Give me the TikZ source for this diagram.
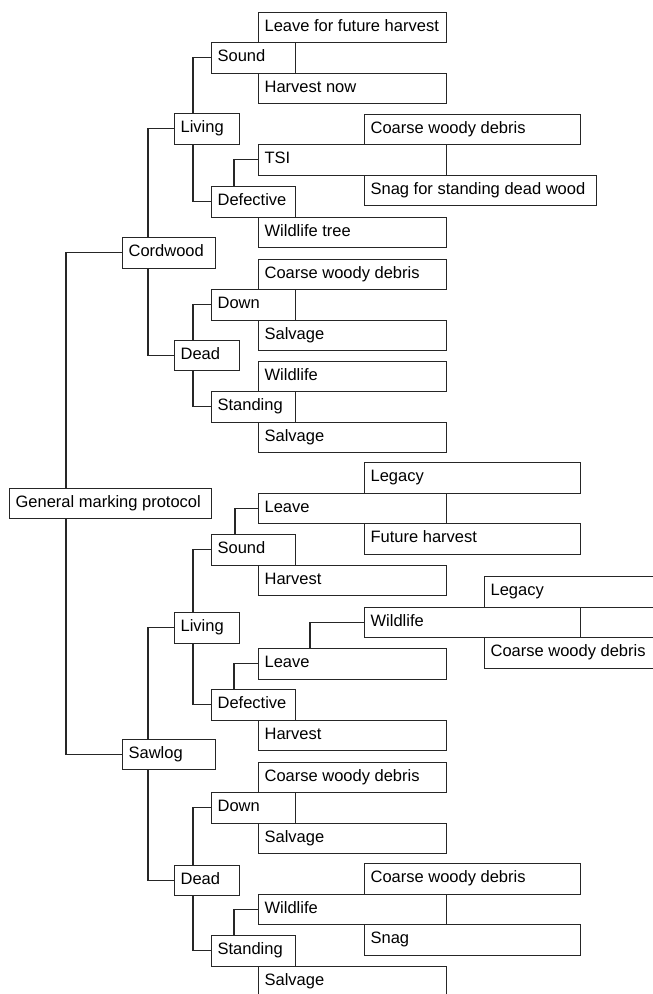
\documentclass[tikz,border=0pt]{standalone}
\usepackage{fontspec}
\setmainfont{Liberation Sans}
\begin{document}
\begin{tikzpicture}[
  x=1pt,y=-1pt,line width=1.2pt,
  box/.style={draw=black!85,anchor=north west,minimum height=30.5pt,inner xsep=6pt,inner ysep=0pt,
    align=flush left,text height=11.5pt,text depth=3.5pt,font=\fontsize{16.5}{19}\selectfont},
  small/.style={box,text width=53pt},
  mid/.style={box,text width=72pt},
  trunk/.style={box,text width=81pt},
  root/.style={box,text width=190pt},
  leaf/.style={box,text width=176pt},
  outer/.style={box,text width=204pt},
  long/.style={box,text width=220pt},
  edge/.style={box,text width=288pt},
  link/.style={draw=black!85}
]
  \useasboundingbox (0,0) rectangle (653,994);
  \clip (0,0) rectangle (653,994);

  % root
  \node[root] (gmp) at (9,487.5) {General marking protocol};

  % cordwood branch
  \node[trunk] (cord) at (122,237) {Cordwood};
  \node[small] (cliv) at (174,113) {Living};
  \node[mid] (csnd) at (211,42) {Sound};
  \node[leaf] (clfh) at (258,11.5) {Leave for future harvest};
  \node[leaf] (chnow) at (258,72.5) {Harvest now};
  \node[mid] (cdef) at (211,186) {Defective};
  \node[leaf] (ctsi) at (258,144) {TSI};
  \node[outer] (ccwd1) at (364,113.5) {Coarse woody debris};
  \node[long] (csnag) at (364,174.5) {Snag for standing dead wood};
  \node[leaf] (cwlt) at (258,216.5) {Wildlife tree};
  \node[small] (cdead) at (174,339.5) {Dead};
  \node[mid] (cdown) at (211,289) {Down};
  \node[leaf] (ccwd2) at (258,258.5) {Coarse woody debris};
  \node[leaf] (csalv1) at (258,319.5) {Salvage};
  \node[mid] (cstand) at (211,391) {Standing};
  \node[leaf] (cwild) at (258,360.5) {Wildlife};
  \node[leaf] (csalv2) at (258,421.5) {Salvage};

  % sawlog branch
  \node[trunk] (saw) at (122,738.5) {Sawlog};
  \node[small] (sliv) at (174,612) {Living};
  \node[mid] (ssnd) at (211,534) {Sound};
  \node[leaf] (sleave1) at (258,492.5) {Leave};
  \node[outer] (slegacy1) at (364,462) {Legacy};
  \node[outer] (sfut) at (364,523) {Future harvest};
  \node[leaf] (sharv1) at (258,564.5) {Harvest};
  \node[mid] (sdef) at (211,689) {Defective};
  \node[leaf] (sleave2) at (258,648) {Leave};
  \node[outer] (swild1) at (364,606.5) {Wildlife};
  \node[edge] (slegacy2) at (484,576) {Legacy};
  \node[edge] (scwd1) at (484,637) {Coarse woody debris};
  \node[leaf] (sharv2) at (258,719.5) {Harvest};
  \node[small] (sdead) at (174,864.5) {Dead};
  \node[mid] (sdown) at (211,792) {Down};
  \node[leaf] (scwd2) at (258,761.5) {Coarse woody debris};
  \node[leaf] (ssalv1) at (258,822.5) {Salvage};
  \node[mid] (sstand) at (211,935) {Standing};
  \node[leaf] (swild2) at (258,893.5) {Wildlife};
  \node[outer] (scwd3) at (364,863) {Coarse woody debris};
  \node[outer] (ssnag) at (364,924) {Snag};
  \node[leaf] (ssalv2) at (258,965.5) {Salvage};

  % elbows going up
  \foreach \p/\c/\dx in {gmp/cord/57, cord/cliv/26, cliv/csnd/19, cdef/ctsi/23, cdead/cdown/19,
      saw/sliv/26, sliv/ssnd/19, ssnd/sleave1/24, sdef/sleave2/23, sleave2/swild1/52,
      sdead/sdown/19, sstand/swild2/23}
    \draw[link] (\p.north west) ++(\dx,0) |- (\c.west);
  % elbows going down
  \foreach \p/\c/\dx in {gmp/saw/57, cord/cdead/26, cliv/cdef/19, cdead/cstand/19,
      saw/sdead/26, sliv/sdef/19, sdead/sstand/19}
    \draw[link] (\p.south west) ++(\dx,0) |- (\c.west);
\end{tikzpicture}
\end{document}
